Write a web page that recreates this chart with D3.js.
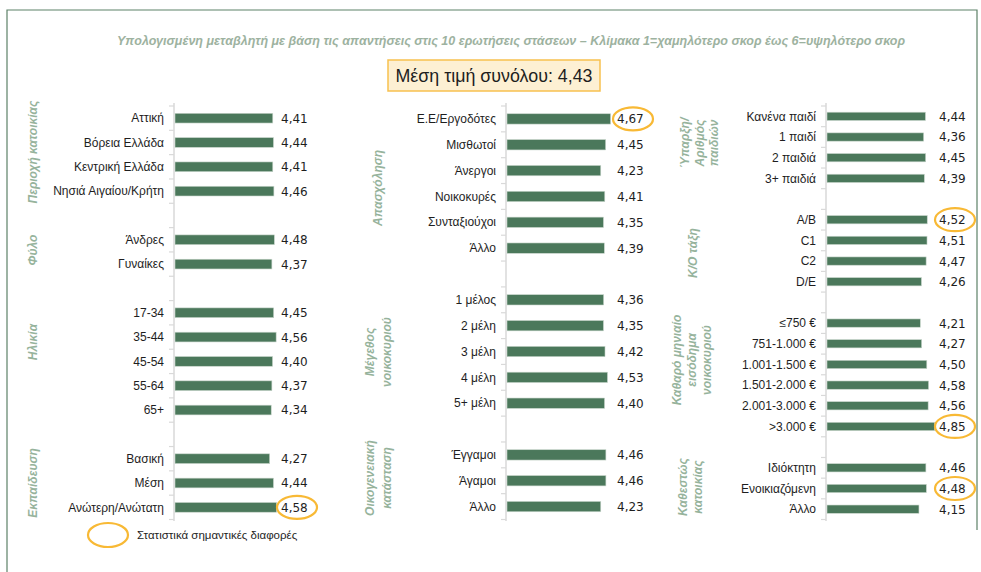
<!DOCTYPE html>
<html>
<head>
<meta charset="utf-8">
<script src="https://cdnjs.cloudflare.com/ajax/libs/d3/7.8.5/d3.min.js"></script>
<style>
body{margin:0;background:#fff}
svg{display:block}
.lab{font-family:"Liberation Sans",Arial,sans-serif;font-size:12px;fill:#1e1e1e}
.val{font-family:"DejaVu Sans",sans-serif;font-size:12px;fill:#1e1e1e}
.grp{font-family:"Liberation Sans",Arial,sans-serif;font-size:12px;font-weight:bold;font-style:italic;fill:#96b39c}
</style>
</head>
<body>
<script>
// data
var meanTotal = '4,43'

var regionCats  = ['Αττική','Βόρεια Ελλάδα','Κεντρική Ελλάδα','Νησιά Αιγαίου/Κρήτη']
var regionVals  = [4.41,4.44,4.41,4.46]
var sexCats     = ['Άνδρες','Γυναίκες']
var sexVals     = [4.48,4.37]
var ageCats     = ['17-34','35-44','45-54','55-64','65+']
var ageVals     = [4.45,4.56,4.40,4.37,4.34]
var eduCats     = ['Βασική','Μέση','Ανώτερη/Ανώτατη']
var eduVals     = [4.27,4.44,4.58]

var jobCats     = ['Ε.Ε/Εργοδότες','Μισθωτοί','Άνεργοι','Νοικοκυρές','Συνταξιούχοι','Άλλο']
var jobVals     = [4.67,4.45,4.23,4.41,4.35,4.39]
var hhCats      = ['1 μέλος','2 μέλη','3 μέλη','4 μέλη','5+ μέλη']
var hhVals      = [4.36,4.35,4.42,4.53,4.40]
var maritalCats = ['Έγγαμοι','Άγαμοι','Άλλο']
var maritalVals = [4.46,4.46,4.23]

var kidsCats    = ['Κανένα παιδί','1 παιδί','2 παιδιά','3+ παιδιά']
var kidsVals    = [4.44,4.36,4.45,4.39]
var classCats   = ['A/B','C1','C2','D/E']
var classVals   = [4.52,4.51,4.47,4.26]
var incomeCats  = ['≤750 €','751-1.000 €','1.001-1.500 €','1.501-2.000 €','2.001-3.000 €','>3.000 €']
var incomeVals  = [4.21,4.27,4.50,4.58,4.56,4.85]
var tenureCats  = ['Ιδιόκτητη','Ενοικιαζόμενη','Άλλο']
var tenureVals  = [4.46,4.48,4.15]

// statistically significant (circled) categories
var sigEdu = ['Ανώτερη/Ανώτατη']
var sigJob = ['Ε.Ε/Εργοδότες']
var sigClass = ['A/B']
var sigIncome = ['>3.000 €']
var sigTenure = ['Ενοικιαζόμενη']

var W = 981, H = 572
var svg = d3.select('body').append('svg').attr('width',W).attr('height',H)

// frame
svg.append('path').attr('d','M7,572V10H977V530')
	.style('fill','none').style('stroke','#5d8168').style('stroke-width',1.2)

svg.append('text')
	.attr('x',511).attr('y',45).attr('text-anchor','middle')
	.attr('textLength',788).attr('lengthAdjust','spacingAndGlyphs')
	.style('font-family','"Liberation Sans",Arial,sans-serif').style('font-size','12px')
	.style('font-weight','bold').style('font-style','italic').style('fill','#9db2a0')
	.text('Υπολογισμένη μεταβλητή με βάση τις απαντήσεις στις 10 ερωτήσεις στάσεων – Κλίμακα 1=χαμηλότερο σκορ έως 6=υψηλότερο σκορ')

svg.append('rect').attr('x',388).attr('y',60).attr('width',212).attr('height',31)
	.style('fill','#fdf0d3').style('stroke','#f7c14f').style('stroke-width',1.5)
svg.append('text').attr('x',494).attr('y',82).attr('text-anchor','middle')
	.attr('textLength',197).attr('lengthAdjust','spacingAndGlyphs')
	.style('font-family','"Liberation Sans",Arial,sans-serif').style('font-size','18px').style('fill','#1e1e1e')
	.text('Μέση τιμή συνόλου: ' + meanTotal)

var panels = [
	{axisX:174, valOff:107, groups:[
		{cats:regionCats, vals:regionVals, sig:[], title:['Περιοχή κατοικίας'], tx:[33], ty:152},
		{cats:sexCats, vals:sexVals, sig:[], title:['Φύλο'], tx:[33], ty:250},
		{cats:ageCats, vals:ageVals, sig:[], title:['Ηλικία'], tx:[33], ty:342},
		{cats:eduCats, vals:eduVals, sig:sigEdu, title:['Εκπαίδευση'], tx:[33], ty:483}]},
	{axisX:506, valOff:111, groups:[
		{cats:jobCats, vals:jobVals, sig:sigJob, title:['Απασχόληση'], tx:[378], ty:188},
		{cats:hhCats, vals:hhVals, sig:[], title:['Μέγεθος','νοικοκυριού'], tx:[370,387], ty:352},
		{cats:maritalCats, vals:maritalVals, sig:[], title:['Οικογενειακή','κατάσταση'], tx:[370,387], ty:478}]},
	{axisX:826, valOff:113, groups:[
		{cats:kidsCats, vals:kidsVals, sig:[], title:['Ύπαρξη/','Αριθμός','παιδιών'], tx:[685,700,714], ty:143},
		{cats:classCats, vals:classVals, sig:sigClass, title:['Κ/Ο τάξη'], tx:[693], ty:253},
		{cats:incomeCats, vals:incomeVals, sig:sigIncome, title:['Καθαρό μηνιαίο','εισόδημα','νοικοκυριού'], tx:[677,692,707], ty:360},
		{cats:tenureCats, vals:tenureVals, sig:sigTenure, title:['Καθεστώς','κατοικίας'], tx:[683,698], ty:487}]}
]

panels.forEach(function(pe,pi,pa){
	var g = svg.append('g').attr('id','panel-'+pi)
	// rows, with an empty row between groups
	var rows = []
	pe.groups.forEach(function(ge,gi,ga){
		if(gi>0) rows.push({id:'gap'+gi})
		ge.cats.forEach(function(c,ci){
			rows.push({id:gi+'-'+ci, cat:c, val:ge.vals[ci], sig:ge.sig.indexOf(c)>=0})
		})
	})
	var y = d3.scaleBand().domain(rows.map(function(d){return d.id})).range([106,519.5]).paddingInner(0.6).paddingOuter(0.3)
	var x = d3.scaleLinear().domain([0,5]).range([pe.axisX,pe.axisX+112])
	var step = y.step()

	// axis with ticks between rows
	g.append('line').attr('x1',pe.axisX).attr('x2',pe.axisX).attr('y1',103).attr('y2',521)
		.style('stroke','#d9d9d9').style('stroke-width',1.5)
	d3.range(rows.length+1).forEach(function(k){
		var ty = y(rows[0].id) - (step-y.bandwidth())/2 + k*step
		g.append('line').attr('x1',pe.axisX-5).attr('x2',pe.axisX).attr('y1',ty).attr('y2',ty)
			.style('stroke','#d9d9d9').style('stroke-width',1.2)
	})

	var data = rows.filter(function(d){return d.cat})
	g.selectAll('rect.bar').data(data).enter().append('rect').attr('class','bar')
		.attr('x',x(0)+1).attr('y',function(d){return y(d.id)})
		.attr('width',function(d){return x(d.val)-x(0)-1}).attr('height',y.bandwidth())
		.style('fill','#4b785b').style('stroke','#c9d6cc').style('stroke-width',0.6)
	g.selectAll('text.lab').data(data).enter().append('text').attr('class','lab')
		.attr('x',pe.axisX-10).attr('y',function(d){return y(d.id)+y.bandwidth()/2})
		.attr('dy','0.35em').attr('text-anchor','end')
		.text(function(d){return d.cat})
	g.selectAll('text.val').data(data).enter().append('text').attr('class','val')
		.attr('x',pe.axisX+pe.valOff).attr('y',function(d){return y(d.id)+y.bandwidth()/2})
		.attr('dy','0.37em')
		.text(function(d){return d3.format('.2f')(d.val).replace('.',',')})
	g.selectAll('ellipse.sig').data(data.filter(function(d){return d.sig})).enter().append('ellipse')
		.attr('cx',pe.axisX+pe.valOff+16).attr('cy',function(d){return y(d.id)+y.bandwidth()/2})
		.attr('rx',20).attr('ry',11.5)
		.style('fill','none').style('stroke','#f8b935').style('stroke-width',2.2)

	pe.groups.forEach(function(ge){
		ge.title.forEach(function(t,ti){
			g.append('text').attr('class','grp')
				.attr('transform','translate('+ge.tx[ti]+','+ge.ty+') rotate(-90)')
				.attr('text-anchor','middle').attr('dy','0.35em')
				.text(t)
		})
	})
})

// legend
svg.append('ellipse').attr('cx',108).attr('cy',535).attr('rx',20).attr('ry',12)
	.style('fill','none').style('stroke','#f8b935').style('stroke-width',2.2)
svg.append('text').attr('class','lab').attr('x',137).attr('y',539)
	.style('font-size','11.5px').text('Στατιστικά σημαντικές διαφορές')
</script>
</body>
</html>
